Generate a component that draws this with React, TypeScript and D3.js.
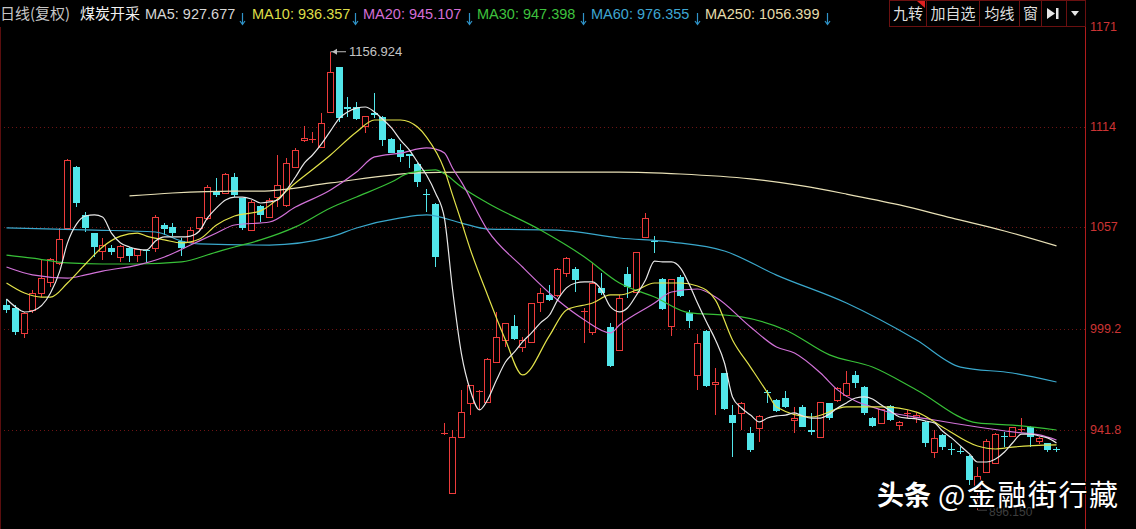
import React from "react";
import * as d3 from "d3";

const W = 1136;
const H = 529;

// Daily candles: [open, high, low, close]
const ohlc: [number, number, number, number][] = [
  [1012.9, 1016.3, 1008.4, 1010.1],
  [1011.2, 1012.9, 995.8, 997.6],
  [997.0, 1009.0, 994.1, 1008.4],
  [1010.1, 1021.4, 1008.4, 1019.7],
  [1019.7, 1038.5, 1017.4, 1028.3],
  [1025.9, 1039.6, 1023.1, 1039.1],
  [1036.8, 1056.7, 1035.6, 1050.4],
  [1056.7, 1095.9, 1055.5, 1095.4],
  [1091.4, 1092.0, 1068.6, 1070.9],
  [1064.1, 1065.8, 1054.4, 1056.7],
  [1053.9, 1053.9, 1040.2, 1045.9],
  [1043.8, 1051.0, 1038.5, 1046.8],
  [1045.3, 1046.8, 1041.1, 1043.0],
  [1040.2, 1047.3, 1037.4, 1046.2],
  [1045.3, 1045.9, 1037.4, 1040.7],
  [1041.1, 1044.7, 1037.4, 1044.7],
  [1043.9, 1044.2, 1037.4, 1043.6],
  [1045.3, 1064.1, 1043.0, 1062.9],
  [1058.4, 1059.5, 1052.7, 1056.1],
  [1057.3, 1059.5, 1052.2, 1053.9],
  [1049.3, 1051.0, 1040.7, 1045.3],
  [1048.7, 1057.3, 1048.2, 1055.5],
  [1056.7, 1062.9, 1054.4, 1062.9],
  [1062.4, 1081.1, 1061.2, 1080.0],
  [1077.2, 1085.1, 1074.3, 1075.5],
  [1076.6, 1088.0, 1076.6, 1087.4],
  [1085.7, 1088.0, 1074.3, 1075.5],
  [1073.7, 1073.7, 1055.5, 1056.7],
  [1055.5, 1072.6, 1055.5, 1071.5],
  [1069.2, 1069.8, 1060.1, 1064.1],
  [1062.9, 1073.7, 1062.4, 1072.6],
  [1074.3, 1098.2, 1068.6, 1081.1],
  [1069.8, 1096.5, 1068.6, 1093.7],
  [1091.4, 1102.2, 1090.8, 1101.0],
  [1106.7, 1114.7, 1105.6, 1107.9],
  [1106.7, 1111.3, 1105.0, 1107.3],
  [1102.8, 1122.1, 1102.8, 1116.4],
  [1122.7, 1156.924, 1122.7, 1145.4],
  [1148.3, 1148.3, 1117.0, 1119.2],
  [1125.5, 1131.2, 1119.8, 1124.4],
  [1125.5, 1128.3, 1118.1, 1118.7],
  [1114.7, 1120.4, 1110.7, 1120.4],
  [1122.1, 1133.5, 1119.2, 1121.0],
  [1119.8, 1120.4, 1103.3, 1106.7],
  [1107.3, 1107.9, 1099.3, 1099.3],
  [1101.0, 1104.5, 1094.2, 1097.1],
  [1098.8, 1098.8, 1090.8, 1097.6],
  [1093.1, 1093.7, 1080.0, 1082.8],
  [1076.0, 1078.9, 1065.8, 1075.5],
  [1070.3, 1070.9, 1034.5, 1040.2],
  [939.5, 945.8, 939.0, 940.1],
  [906.0, 941.8, 905.8, 937.8],
  [937.8, 964.6, 937.3, 952.0],
  [957.2, 967.4, 950.3, 967.4],
  [963.4, 964.6, 953.2, 964.0],
  [957.7, 982.8, 957.2, 982.2],
  [980.5, 1008.9, 979.9, 994.7],
  [993.0, 1002.7, 989.0, 1002.7],
  [1001.0, 1007.2, 993.0, 993.6],
  [989.0, 994.7, 986.2, 993.0],
  [991.9, 1014.0, 991.9, 1014.0],
  [1014.6, 1022.6, 1008.9, 1019.7],
  [1018.6, 1024.3, 1015.2, 1015.7],
  [1018.6, 1033.9, 1017.4, 1033.4],
  [1031.1, 1040.2, 1028.8, 1039.6],
  [1033.4, 1034.5, 1020.3, 1027.1],
  [1008.9, 1011.2, 991.3, 1009.5],
  [997.6, 1036.8, 995.8, 1025.4],
  [1022.6, 1031.1, 1018.6, 1019.7],
  [1000.4, 1002.7, 977.6, 978.2],
  [987.3, 1018.6, 986.7, 1016.9],
  [1030.5, 1034.5, 1016.9, 1023.1],
  [1020.3, 1043.0, 1019.7, 1043.0],
  [1051.6, 1065.2, 1051.0, 1062.4],
  [1049.3, 1052.1, 1042.2, 1048.7],
  [1027.7, 1028.2, 1010.1, 1010.6],
  [1001.0, 1027.7, 995.3, 1027.7],
  [1028.8, 1029.9, 1017.4, 1018.0],
  [1008.4, 1010.1, 999.8, 1003.8],
  [973.1, 996.4, 964.6, 991.3],
  [998.1, 998.7, 966.3, 966.8],
  [968.0, 977.1, 950.3, 969.1],
  [974.2, 974.2, 953.2, 953.8],
  [950.3, 956.0, 926.5, 945.8],
  [951.5, 957.7, 941.8, 957.2],
  [940.1, 943.5, 929.3, 930.4],
  [943.0, 950.3, 935.0, 949.8],
  [963.4, 964.6, 957.2, 962.9],
  [958.9, 959.4, 952.0, 952.6],
  [960.0, 964.0, 954.3, 954.9],
  [947.5, 954.9, 940.1, 948.6],
  [954.9, 956.0, 943.5, 943.5],
  [941.8, 951.5, 939.0, 940.7],
  [937.8, 957.7, 937.8, 957.7],
  [957.2, 957.2, 947.5, 948.6],
  [958.9, 966.3, 957.7, 965.7],
  [961.7, 975.4, 960.6, 968.5],
  [973.1, 975.4, 965.7, 968.5],
  [966.3, 966.8, 950.3, 951.5],
  [948.6, 949.2, 943.5, 944.1],
  [945.8, 953.8, 945.8, 953.8],
  [955.5, 956.0, 946.9, 947.5],
  [944.6, 946.9, 941.8, 946.4],
  [950.9, 953.2, 948.6, 951.5],
  [949.2, 951.5, 945.8, 950.3],
  [946.4, 946.9, 932.1, 934.4],
  [929.3, 941.8, 925.9, 937.3],
  [939.0, 939.5, 930.4, 932.1],
  [930.9, 934.4, 927.6, 930.4],
  [929.9, 932.1, 928.1, 929.3],
  [927.0, 927.6, 910.5, 913.4],
  [908.8, 920.8, 896.15, 915.6],
  [917.9, 936.7, 917.4, 935.6],
  [923.0, 940.1, 923.0, 939.5],
  [938.4, 940.7, 932.1, 937.8],
  [938.4, 943.5, 937.8, 943.5],
  [941.8, 948.6, 940.7, 942.4],
  [943.5, 944.1, 932.1, 937.8],
  [935.6, 937.8, 933.9, 937.3],
  [934.4, 934.4, 929.3, 930.4],
  [930.9, 932.1, 929.3, 930.4],
];

// Moving averages: [candle index, value]
const ma5: [number, number][] = [
  [0, 1016.3], [1, 1011.8], [2, 1008.9], [3, 1009.5], [5, 1019.7], [6, 1031.7], [7, 1048.2],
  [8, 1058.9], [9, 1063.5], [10, 1064.1], [11, 1062.9], [12, 1053.8], [13, 1048.2], [14, 1045.9],
  [15, 1044.7], [16, 1044.2], [17, 1049.3], [18, 1051.6], [19, 1051.6], [20, 1051.6], [21, 1052.1],
  [22, 1055.0], [23, 1062.4], [24, 1068.1], [25, 1072.6], [26, 1074.3], [27, 1074.3], [28, 1073.2],
  [29, 1070.9], [30, 1071.5], [31, 1072.6], [32, 1078.3], [33, 1085.7], [34, 1093.7], [35, 1098.2],
  [36, 1104.5], [37, 1111.9], [38, 1119.2], [39, 1122.7], [40, 1124.9], [41, 1125.5], [42, 1122.7],
  [43, 1118.7], [44, 1113.6], [45, 1106.7], [46, 1101.0], [47, 1094.2], [48, 1086.8], [49, 1076.6],
  [50, 1062.0], [51, 1022.0], [52, 985.0], [53, 964.0], [54, 953.2], [55, 958.9], [56, 970.2],
  [57, 980.5], [58, 986.2], [59, 991.9], [60, 997.0], [61, 1002.7], [62, 1007.2], [63, 1015.7],
  [64, 1022.6], [65, 1025.4], [66, 1026.0], [67, 1026.0], [68, 1021.4], [69, 1011.8], [70, 1009.0],
  [71, 1011.2], [72, 1018.6], [73, 1027.1], [74, 1037.9], [75, 1037.4], [76, 1037.4], [77, 1033.9],
  [78, 1024.3], [79, 1014.0], [80, 1003.2], [81, 993.0], [82, 979.9], [83, 960.6], [84, 954.3],
  [85, 950.3], [86, 946.4], [87, 948.6], [88, 949.8], [89, 950.3], [90, 951.5], [91, 949.8],
  [92, 948.6], [93, 948.6], [94, 950.9], [95, 954.3], [96, 957.2], [97, 960.0], [98, 960.6],
  [99, 959.4], [100, 956.0], [101, 952.6], [102, 949.2], [103, 948.6], [104, 948.1], [105, 946.9],
  [106, 945.8], [107, 941.2], [108, 937.3], [109, 932.7], [110, 928.2], [111, 923.6], [112, 923.6],
  [113, 925.3], [114, 929.3], [115, 934.4], [116, 939.5], [117, 939.5], [118, 938.4], [119, 937.3],
  [120, 934.4],
];

const ma10: [number, number][] = [
  [0, 1025.4], [2, 1019.7], [4, 1017.4], [5, 1017.4], [7, 1025.4], [9, 1036.2], [11, 1045.9],
  [13, 1052.1], [15, 1053.8], [16, 1052.1], [18, 1049.9], [20, 1048.2], [22, 1050.4], [24, 1058.4],
  [26, 1063.5], [29, 1066.4], [33, 1082.3], [37, 1098.2], [40, 1111.3], [42, 1118.1], [45, 1118.1],
  [47, 1114.1], [48, 1108.4], [50, 1089.7], [51, 1075.5], [52, 1060.1], [53, 1044.2], [55, 1018.6],
  [57, 993.0], [59, 973.1], [62, 995.5], [64, 1010.1], [67, 1014.0], [69, 1018.6], [70, 1018.6],
  [72, 1021.4], [74, 1025.4], [77, 1025.4], [79, 1023.7], [81, 1015.7], [83, 993.0], [85, 977.6],
  [87, 962.9], [88, 954.9], [92, 949.2], [96, 954.9], [100, 954.9], [104, 952.0], [107, 943.5],
  [111, 932.7], [113, 931.0], [115, 932.1], [120, 933.3],
];

const ma20: [number, number][] = [
  [0, 1034.5], [3, 1030.0], [7, 1028.2], [9, 1030.0], [11, 1032.2], [15, 1035.6], [18, 1040.2],
  [21, 1047.0], [24, 1053.8], [26, 1058.4], [30, 1060.1], [33, 1068.6], [37, 1078.3], [40, 1088.5],
  [42, 1097.1], [45, 1099.3], [48, 1102.2], [49, 1101.6], [50, 1099.3], [51, 1090.8], [52, 1082.8],
  [55, 1055.5], [59, 1034.5], [63, 1015.7], [66, 1004.4], [69, 997.0], [70, 1001.5], [74, 1014.0],
  [76, 1020.3], [79, 1022.0], [81, 1017.4], [85, 1000.4], [88, 989.0], [90, 985.6], [93, 974.2],
  [95, 964.6], [100, 953.2], [106, 947.5], [111, 943.5], [115, 940.7], [118, 939.0], [120, 936.1],
];

const ma30: [number, number][] = [
  [0, 1041.3], [3, 1039.6], [7, 1036.8], [11, 1036.2], [15, 1036.2], [20, 1037.4], [24, 1043.0],
  [26, 1045.9], [29, 1049.9], [33, 1057.3], [37, 1068.1], [40, 1074.3], [44, 1082.8], [46, 1088.0],
  [49, 1089.7], [50, 1087.5], [52, 1080.0], [55, 1070.9], [61, 1055.5], [66, 1040.2], [70, 1025.4],
  [74, 1017.4], [78, 1008.4], [82, 1007.2], [84, 1006.1], [89, 998.7], [94, 984.5], [99, 977.6],
  [104, 964.6], [111, 945.8], [115, 944.6], [120, 941.8],
];

const ma60: [number, number][] = [
  [0, 1056.7], [10, 1055.5], [17, 1054.4], [20, 1049.3], [22, 1047.6], [30, 1047.0], [37, 1051.6],
  [40, 1056.7], [45, 1062.4], [48, 1064.1], [52, 1059.5], [55, 1056.1], [63, 1055.5], [70, 1051.0],
  [76, 1048.7], [82, 1043.6], [88, 1029.9], [96, 1014.0], [104, 993.0], [109, 977.6], [115, 974.2],
  [120, 969.1],
];

const ma250: [number, number][] = [
  [14, 1074.9], [19, 1076.6], [26, 1077.7], [29, 1077.7], [37, 1082.3], [44, 1086.8], [47, 1088.0],
  [52, 1088.5], [61, 1088.5], [70, 1088.5], [77, 1087.4], [85, 1084.6], [91, 1080.6], [96, 1076.0],
  [102, 1069.8], [108, 1062.4], [114, 1055.0], [120, 1046.5],
];

const priceTicks = [1171, 1114, 1057, 999.2, 941.8];
const tickLabels = ["1171", "1114", "1057", "999.2", "941.8"];

const legendItems = [
  { text: "MA5: 927.677", color: "#d6d6d6", x: 145, arrowX: 242 },
  { text: "MA10: 936.357", color: "#dede48", x: 252, arrowX: 355 },
  { text: "MA20: 945.107", color: "#d46ed6", x: 363, arrowX: 469 },
  { text: "MA30: 947.398", color: "#3ec23e", x: 477, arrowX: 583 },
  { text: "MA60: 976.355", color: "#3ea6d2", x: 591, arrowX: 697 },
  { text: "MA250: 1056.399", color: "#e6dcaa", x: 705, arrowX: 827 },
];

const toolButtons = [
  { label: "九转", x: 889, w: 37 },
  { label: "加自选", x: 926, w: 53 },
  { label: "均线", x: 979, w: 40 },
  { label: "窗", x: 1019, w: 22 },
  { label: "", x: 1041, w: 25 },
  { label: "", x: 1066, w: 19 },
];

const maSeries = [
  { data: ma250, color: "#e8e0b6" },
  { data: ma60, color: "#3aa8cc" },
  { data: ma30, color: "#38c038" },
  { data: ma20, color: "#d272d8" },
  { data: ma10, color: "#e2e24a" },
  { data: ma5, color: "#e8e8e8" },
];

const UP = "#ec3b3b";
const DOWN = "#52e6ea";
const FONT = "'Liberation Sans', Arial, 'Noto Sans CJK SC', sans-serif";
const CJK = "'Noto Sans CJK SC', 'Liberation Sans', sans-serif";

export default function App() {
  const axisX = 1085;
  const x = d3
    .scaleBand<number>()
    .domain(d3.range(ohlc.length))
    .range([1.625, 1060.375]);
  const cx = (i: number) => Math.round((x(i) as number) + x.step() / 2);
  const y = d3.scaleLinear().domain([941.8, 1171]).range([430, 27]);

  const line = d3
    .line<[number, number]>()
    .x((d) => cx(d[0]) + 0.5)
    .y((d) => y(d[1]))
    .curve(d3.curveMonotoneX);

  const hiIdx = d3.maxIndex(ohlc, (d) => d[1]);
  const loIdx = d3.minIndex(ohlc, (d) => d[2]);
  const hi = ohlc[hiIdx][1];
  const lo = ohlc[loIdx][2];

  return (
    <div style={{ position: "fixed", left: 0, top: 0, width: W, height: H, background: "#000" }}>
      <svg width={W} height={H} style={{ display: "block" }}>
        <rect width={W} height={H} fill="#000" />
        <defs>
          <clipPath id="plot">
            <rect x={0} y={27} width={axisX} height={H - 27} />
          </clipPath>
        </defs>

        {/* dotted price grid */}
        {priceTicks.slice(1).map((t) => (
          <line
            key={t}
            x1={0}
            x2={axisX}
            y1={Math.round(y(t)) + 0.5}
            y2={Math.round(y(t)) + 0.5}
            stroke="#6e1414"
            strokeDasharray="1 3"
          />
        ))}

        {/* candles */}
        <g clipPath="url(#plot)">
          {ohlc.map(([o, h, l, c], i) => {
            const xc = cx(i);
            const up = c >= o;
            const top = Math.round(y(Math.max(o, c)));
            const bot = Math.round(y(Math.min(o, c)));
            const yh = Math.round(y(h));
            const yl = Math.round(y(l));
            const bh = bot - top;
            if (up) {
              return (
                <g key={i} stroke={UP} fill="none" shapeRendering="crispEdges">
                  {yh < top && <line x1={xc + 0.5} x2={xc + 0.5} y1={yh} y2={top} />}
                  {yl > bot && <line x1={xc + 0.5} x2={xc + 0.5} y1={bot} y2={yl} />}
                  {bh <= 1 ? (
                    <line x1={xc - 3} x2={xc + 4} y1={top + 0.5} y2={top + 0.5} />
                  ) : (
                    <rect x={xc - 2.5} y={top + 0.5} width={6} height={bh} fill="#000" />
                  )}
                </g>
              );
            }
            return (
              <g key={i} shapeRendering="crispEdges">
                <line x1={xc + 0.5} x2={xc + 0.5} y1={yh} y2={yl} stroke={DOWN} />
                {bh <= 1 ? (
                  <line x1={xc - 3} x2={xc + 4} y1={top + 0.5} y2={top + 0.5} stroke={DOWN} />
                ) : (
                  <rect x={xc - 3} y={top} width={7} height={bh} fill={DOWN} />
                )}
              </g>
            );
          })}

          {/* moving averages */}
          {maSeries.map((s, k) => (
            <path key={k} d={line(s.data) || ""} fill="none" stroke={s.color} strokeWidth={1.2} />
          ))}
        </g>

        {/* high marker */}
        <g>
          <line x1={cx(hiIdx) + 0.5} x2={cx(hiIdx) + 16} y1={y(hi)} y2={y(hi)} stroke="#bdbdbd" />
          <path d={`M${cx(hiIdx) + 2},${y(hi)} l5,-3 l0,6 z`} fill="#bdbdbd" />
          <text x={cx(hiIdx) + 19} y={y(hi) + 4.5} fill="#c4c4c4" fontSize={13} fontFamily={FONT}>
            {hi.toFixed(3)}
          </text>
        </g>

        {/* low marker, faint */}
        <g opacity={0.4}>
          <line x1={cx(loIdx) + 0.5} x2={cx(loIdx) + 10} y1={y(lo)} y2={y(lo)} stroke="#9a9a9a" />
          <text x={cx(loIdx) + 12} y={y(lo) + 6} fill="#9a9a9a" fontSize={12} fontFamily={FONT}>
            {lo.toFixed(3)}
          </text>
        </g>

        {/* right price axis */}
        <line x1={0.5} x2={0.5} y1={27} y2={H} stroke="#5a0e0e" />
        <line x1={axisX + 0.5} x2={axisX + 0.5} y1={0} y2={H} stroke="#b01c1c" />
        {priceTicks.map((t, k) => (
          <text key={t} x={axisX + 5} y={y(t) + 4} fill="#cc3434" fontSize={12.5} fontFamily={FONT}>
            {tickLabels[k]}
          </text>
        ))}

        {/* header legend */}
        <text x={0} y={19} fill="#c6c6c6" fontSize={15} fontFamily={CJK}>
          日线(复权)
        </text>
        <text x={80} y={19} fill="#f2f2f2" fontSize={15} fontFamily={CJK}>
          煤炭开采
        </text>
        {legendItems.map((it) => (
          <g key={it.text}>
            <text x={it.x} y={19} fill={it.color} fontSize={14.5} fontFamily={FONT}>
              {it.text}
            </text>
            <path
              d={`M${it.arrowX + 0.5},13 V24 M${it.arrowX - 2},21 L${it.arrowX + 0.5},24.5 L${it.arrowX + 3},21`}
              stroke="#2f93c8"
              strokeWidth={1.2}
              fill="none"
            />
          </g>
        ))}

        {/* toolbar buttons */}
        {toolButtons.map((b, k) => (
          <g key={k}>
            <rect x={b.x + 0.5} y={0.5} width={b.w} height={26} fill="#000" stroke="#6a1010" />
            {b.label && (
              <text
                x={b.x + b.w / 2 + 0.5}
                y={19}
                textAnchor="middle"
                fill="#dedede"
                fontSize={15}
                fontFamily={CJK}
              >
                {b.label}
              </text>
            )}
          </g>
        ))}
        <path d="M917,1 L925,1 L925,8 Z" fill="#e02020" />
        <path d="M1047,8 L1055,13.5 L1047,19 Z M1056,8 h2.5 v11 h-2.5 Z" fill="#e6e6e6" />
        <path d="M1071,11 h8 l-4,5 z" fill="#e6e6e6" />

        {/* watermark */}
        <g fill="#ffffff" stroke="#000" strokeWidth={2.5} style={{ paintOrder: "stroke" }}>
          <text x={877} y={505} fontSize={27} fontWeight="bold" fontFamily={CJK} textLength={54}>
            头条
          </text>
          <text x={938} y={506} fontSize={29} fontFamily={CJK} textLength={180}>
            @金融街行藏
          </text>
        </g>
      </svg>
    </div>
  );
}
